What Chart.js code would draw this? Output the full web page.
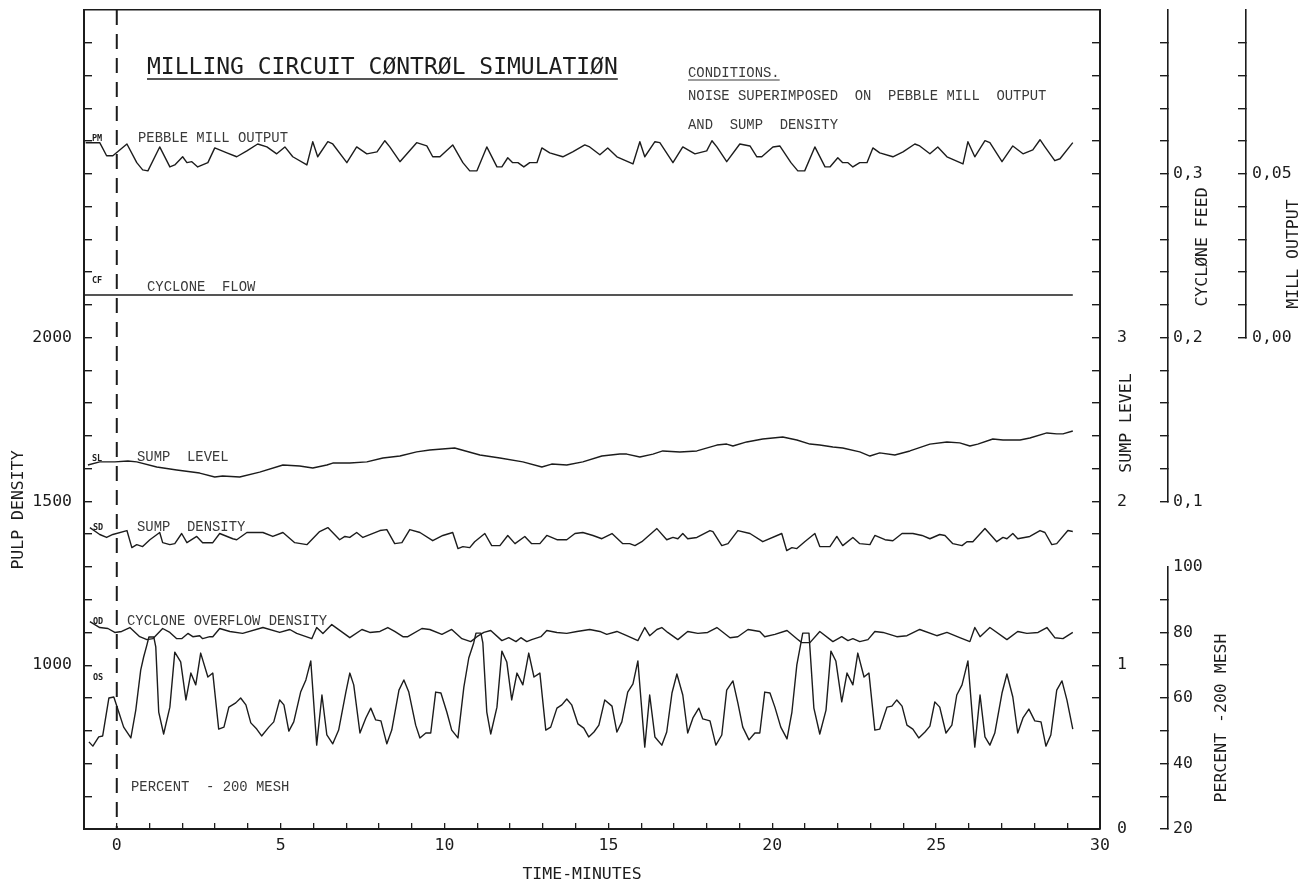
<!DOCTYPE html>
<html>
<head>
<meta charset="utf-8">
<title>Milling circuit control simulation</title>
<script src="https://cdn.jsdelivr.net/npm/chart.js@4.4.1/dist/chart.umd.min.js"></script>
<style>
  html, body { margin: 0; padding: 0; background: #fff; }
  #wrap { position: relative; width: 1304px; height: 884px; }
</style>
</head>
<body>
<div id="wrap"><canvas id="mill"></canvas></div>
<script>
(function () {
    "use strict";

    // ---- tick labels ----
    const timeLabels = [0, 5, 10, 15, 20, 25, 30];
    const pulpLabels = [1000, 1500, 2000];
    const sumpLabels = [0, 1, 2, 3];
    const feedLabels = [0.1, 0.2, 0.3];
    const millLabels = [0, 0.05];
    const meshLabels = [20, 40, 60, 80, 100];

    // controller switched on at t = 0
    const switchTime = 0;

    // ---- pebble mill output (mill output axis) ----
    const pmTime = [
        -0.95, -0.67, -0.52, -0.31, -0.12, 0.31, 0.61, 0.79, 0.95, 1.31,
        1.62, 1.77, 2.01, 2.14, 2.29, 2.47, 2.78, 2.99, 3.36, 3.66,
        3.97, 4.30, 4.58, 4.88, 5.13, 5.37, 5.80, 5.98, 6.13, 6.44,
        6.59, 7.02, 7.32, 7.63, 7.94, 8.18, 8.33, 8.64, 9.15, 9.46,
        9.64, 9.86, 10.25, 10.56, 10.77, 10.99, 11.29, 11.60, 11.75, 11.93,
        12.08, 12.24, 12.42, 12.60, 12.82, 12.97, 13.21, 13.61, 13.91, 14.28,
        14.43, 14.74, 14.98, 15.26, 15.75, 15.96, 16.11, 16.42, 16.57, 16.97,
        17.27, 17.64, 18.00, 18.16, 18.31, 18.61, 19.01, 19.32, 19.53, 19.68,
        20.02, 20.23, 20.57, 20.78, 20.99, 21.30, 21.61, 21.76, 22.00, 22.15,
        22.31, 22.46, 22.67, 22.89, 23.07, 23.28, 23.68, 23.99, 24.35, 24.50,
        24.81, 25.05, 25.33, 25.82, 25.97, 26.18, 26.49, 26.64, 27.01, 27.34,
        27.65, 27.95, 28.17, 28.32, 28.62, 28.78, 29.17
    ];
    const pmOutput = [
        0.0595, 0.0595, 0.0595, 0.0555, 0.0555, 0.0591, 0.0534, 0.0512, 0.0509, 0.0582,
        0.0521, 0.0527, 0.0552, 0.0534, 0.0537, 0.0521, 0.0534, 0.0579, 0.0564, 0.0552,
        0.0570, 0.0591, 0.0582, 0.0561, 0.0582, 0.0552, 0.0527, 0.0598, 0.0552, 0.0598,
        0.0591, 0.0534, 0.0582, 0.0561, 0.0567, 0.0601, 0.0582, 0.0537, 0.0595, 0.0585,
        0.0552, 0.0552, 0.0588, 0.0534, 0.0509, 0.0509, 0.0582, 0.0521, 0.0521, 0.0549,
        0.0534, 0.0534, 0.0521, 0.0534, 0.0534, 0.0579, 0.0564, 0.0552, 0.0567, 0.0588,
        0.0582, 0.0558, 0.0579, 0.0552, 0.0530, 0.0598, 0.0552, 0.0598, 0.0595, 0.0534,
        0.0582, 0.0561, 0.0570, 0.0601, 0.0582, 0.0537, 0.0591, 0.0585, 0.0552, 0.0552,
        0.0582, 0.0585, 0.0534, 0.0509, 0.0509, 0.0582, 0.0521, 0.0521, 0.0549, 0.0534,
        0.0534, 0.0521, 0.0534, 0.0534, 0.0579, 0.0564, 0.0552, 0.0567, 0.0591, 0.0585,
        0.0561, 0.0582, 0.0552, 0.0530, 0.0598, 0.0552, 0.0601, 0.0595, 0.0537, 0.0585,
        0.0561, 0.0573, 0.0604, 0.0582, 0.0540, 0.0546, 0.0595
    ];

    // ---- cyclone flow (cyclone feed axis) ----
    const cfTime = [-1, 29.17];
    const cfFeed = [0.226, 0.226];

    // ---- sump level ----
    const slTime = [
        -0.88, -0.52, -0.06, 0.34, 0.61, 1.22, 1.83, 2.53, 2.99, 3.23,
        3.75, 4.36, 5.07, 5.58, 5.98, 6.41, 6.59, 7.11, 7.63, 8.12,
        8.64, 9.15, 9.55, 10.31, 11.08, 11.69, 12.39, 12.97, 13.27, 13.73,
        14.22, 14.80, 15.35, 15.56, 15.96, 16.36, 16.66, 17.18, 17.70, 18.31,
        18.61, 18.80, 19.22, 19.71, 20.32, 20.75, 21.15, 21.45, 21.85, 22.15,
        22.67, 22.98, 23.28, 23.74, 24.20, 24.81, 25.33, 25.72, 26.03, 26.27,
        26.73, 27.04, 27.56, 27.86, 28.38, 28.68, 28.87, 29.17
    ];
    const slLevel = [
        2.222, 2.241, 2.241, 2.247, 2.241, 2.210, 2.192, 2.173, 2.149, 2.155,
        2.149, 2.179, 2.222, 2.216, 2.204, 2.222, 2.234, 2.234, 2.241, 2.265,
        2.277, 2.302, 2.314, 2.326, 2.283, 2.265, 2.241, 2.210, 2.228, 2.222,
        2.241, 2.277, 2.289, 2.289, 2.271, 2.289, 2.308, 2.302, 2.308, 2.344,
        2.350, 2.338, 2.363, 2.381, 2.393, 2.375, 2.350, 2.344, 2.332, 2.326,
        2.302, 2.277, 2.296, 2.283, 2.308, 2.350, 2.363, 2.357, 2.338, 2.350,
        2.381, 2.375, 2.375, 2.387, 2.418, 2.412, 2.412, 2.430
    ];

    // ---- sump density (pulp density axis) ----
    const sdTime = [
        -0.82, -0.52, -0.31, -0.12, 0.31, 0.46, 0.61, 0.79, 1.01, 1.31,
        1.40, 1.62, 1.77, 1.98, 2.14, 2.44, 2.62, 2.93, 3.14, 3.54,
        3.66, 3.97, 4.15, 4.46, 4.76, 5.07, 5.43, 5.80, 6.19, 6.44,
        6.80, 6.96, 7.11, 7.32, 7.51, 8.03, 8.24, 8.48, 8.70, 8.94,
        9.25, 9.64, 9.95, 10.25, 10.41, 10.56, 10.77, 10.92, 11.23, 11.44,
        11.69, 11.93, 12.15, 12.45, 12.66, 12.91, 13.12, 13.43, 13.73, 13.98,
        14.22, 14.53, 14.80, 15.11, 15.44, 15.65, 15.81, 16.02, 16.48, 16.78,
        16.97, 17.12, 17.27, 17.42, 17.70, 18.10, 18.19, 18.46, 18.65, 18.95,
        19.32, 19.71, 20.29, 20.44, 20.60, 20.75, 20.99, 21.30, 21.45, 21.76,
        21.97, 22.15, 22.46, 22.67, 22.98, 23.13, 23.44, 23.68, 23.96, 24.29,
        24.57, 24.81, 25.11, 25.27, 25.51, 25.79, 25.94, 26.12, 26.49, 26.85,
        27.04, 27.16, 27.34, 27.49, 27.86, 28.17, 28.32, 28.53, 28.68, 29.02,
        29.17
    ];
    const sdDensity = [
        1420, 1399, 1390, 1399, 1411, 1359, 1368, 1362, 1383, 1405,
        1374, 1368, 1371, 1402, 1374, 1393, 1374, 1374, 1402, 1386,
        1383, 1405, 1405, 1405, 1393, 1405, 1374, 1368, 1408, 1420,
        1383, 1393, 1390, 1405, 1390, 1411, 1414, 1371, 1374, 1414,
        1405, 1380, 1396, 1405, 1356, 1362, 1359, 1377, 1402, 1365,
        1365, 1396, 1371, 1393, 1371, 1371, 1396, 1383, 1383, 1402,
        1405, 1396, 1386, 1402, 1371, 1371, 1365, 1377, 1417, 1383,
        1390, 1386, 1402, 1386, 1390, 1411, 1408, 1365, 1371, 1411,
        1402, 1377, 1402, 1350, 1359, 1356, 1377, 1402, 1362, 1362,
        1393, 1365, 1390, 1371, 1368, 1396, 1383, 1380, 1402, 1402,
        1396, 1386, 1399, 1396, 1371, 1365, 1377, 1377, 1417, 1377,
        1390, 1386, 1402, 1386, 1393, 1411, 1405, 1368, 1371, 1411,
        1408
    ];

    // ---- cyclone overflow density (pulp density axis) ----
    const odTime = [
        -0.82, -0.52, -0.27, -0.06, 0.15, 0.40, 0.70, 0.92, 1.10, 1.40,
        1.62, 1.83, 1.98, 2.17, 2.32, 2.53, 2.62, 2.84, 2.93, 3.14,
        3.45, 3.84, 4.46, 4.97, 5.28, 5.49, 5.95, 6.10, 6.29, 6.56,
        7.11, 7.48, 7.72, 8.03, 8.27, 8.48, 8.73, 8.88, 9.31, 9.55,
        9.92, 10.22, 10.53, 10.80, 10.99, 11.20, 11.41, 11.75, 11.96, 12.18,
        12.33, 12.51, 12.66, 12.94, 13.12, 13.43, 13.73, 14.04, 14.43, 14.74,
        14.95, 15.26, 15.56, 15.90, 16.11, 16.26, 16.48, 16.63, 16.81, 17.12,
        17.42, 17.73, 18.03, 18.31, 18.71, 18.95, 19.26, 19.62, 19.77, 20.08,
        20.45, 20.75, 20.90, 21.15, 21.45, 21.85, 22.12, 22.31, 22.46, 22.67,
        22.92, 23.13, 23.38, 23.80, 24.11, 24.50, 25.02, 25.33, 25.72, 26.03,
        26.18, 26.34, 26.64, 27.16, 27.49, 27.77, 28.11, 28.38, 28.62, 28.87,
        29.17
    ];
    const odDensity = [
        1133, 1115, 1112, 1100, 1103, 1115, 1087, 1078, 1081, 1112,
        1100, 1081, 1081, 1097, 1087, 1090, 1081, 1087, 1087, 1112,
        1103, 1097, 1115, 1100, 1109, 1097, 1081, 1115, 1097, 1124,
        1084, 1109, 1100, 1103, 1115, 1103, 1087, 1087, 1112, 1109,
        1094, 1109, 1081, 1072, 1087, 1100, 1106, 1075, 1084, 1072,
        1084, 1072, 1078, 1087, 1106, 1100, 1097, 1103, 1109, 1103,
        1094, 1103, 1090, 1075, 1115, 1090, 1109, 1115, 1100, 1078,
        1103, 1097, 1100, 1115, 1084, 1087, 1109, 1103, 1087, 1094,
        1106, 1081, 1069, 1069, 1103, 1072, 1087, 1075, 1081, 1072,
        1078, 1103, 1100, 1087, 1090, 1109, 1090, 1100, 1084, 1072,
        1115, 1087, 1115, 1078, 1103, 1097, 1100, 1115, 1084, 1081,
        1100
    ];

    // ---- percent -200 mesh in cyclone overflow ----
    const osTime = [
        -0.85, -0.73, -0.55, -0.43, -0.24, -0.09, 0.06, 0.21, 0.43, 0.58,
        0.73, 0.82, 0.92, 0.98, 1.13, 1.19, 1.28, 1.43, 1.62, 1.77,
        1.95, 2.11, 2.26, 2.41, 2.56, 2.78, 2.93, 3.11, 3.27, 3.42,
        3.63, 3.78, 3.94, 4.09, 4.27, 4.42, 4.64, 4.79, 4.97, 5.10,
        5.25, 5.40, 5.61, 5.77, 5.92, 6.10, 6.26, 6.41, 6.59, 6.77,
        6.99, 7.11, 7.23, 7.42, 7.60, 7.75, 7.90, 8.06, 8.24, 8.39,
        8.61, 8.76, 8.91, 9.12, 9.25, 9.43, 9.58, 9.73, 9.89, 10.07,
        10.22, 10.41, 10.59, 10.74, 10.89, 10.96, 11.11, 11.17, 11.29, 11.41,
        11.60, 11.75, 11.90, 12.05, 12.21, 12.39, 12.57, 12.73, 12.91, 13.09,
        13.24, 13.43, 13.58, 13.73, 13.88, 14.07, 14.25, 14.40, 14.56, 14.71,
        14.89, 15.11, 15.26, 15.41, 15.59, 15.75, 15.90, 16.11, 16.26, 16.42,
        16.63, 16.78, 16.94, 17.09, 17.27, 17.42, 17.58, 17.76, 17.88, 18.10,
        18.28, 18.46, 18.61, 18.80, 18.95, 19.10, 19.29, 19.47, 19.62, 19.77,
        19.93, 20.08, 20.26, 20.45, 20.60, 20.75, 20.93, 21.12, 21.27, 21.45,
        21.64, 21.79, 21.94, 22.12, 22.28, 22.46, 22.61, 22.80, 22.95, 23.13,
        23.28, 23.50, 23.65, 23.80, 23.96, 24.11, 24.29, 24.47, 24.66, 24.81,
        24.96, 25.11, 25.30, 25.48, 25.63, 25.79, 25.97, 26.18, 26.34, 26.49,
        26.64, 26.79, 27.01, 27.16, 27.34, 27.49, 27.65, 27.83, 28.01, 28.20,
        28.35, 28.50, 28.68, 28.84, 28.99, 29.17
    ];
    const osMesh = [
        46.6, 45.3, 48.1, 48.4, 60.0, 60.3, 55.7, 51.1, 47.8, 56.3,
        68.5, 72.5, 76.2, 78.6, 78.6, 75.6, 55.7, 49.0, 57.2, 74.0,
        71.0, 59.4, 67.6, 64.0, 73.7, 66.4, 67.6, 50.5, 51.1, 57.2,
        58.5, 60.0, 57.9, 52.4, 50.5, 48.4, 51.1, 52.7, 59.4, 57.9,
        49.9, 52.7, 61.8, 65.5, 71.3, 45.6, 60.9, 48.7, 46.0, 50.2,
        61.8, 67.6, 64.0, 49.3, 53.9, 56.9, 53.3, 53.0, 46.0, 50.2,
        62.4, 65.5, 61.8, 51.7, 47.8, 49.3, 49.3, 61.8, 61.5, 55.7,
        50.2, 47.8, 63.3, 72.2, 76.8, 79.8, 79.8, 76.8, 55.7, 49.0,
        57.2, 74.3, 71.0, 59.4, 67.6, 64.0, 73.7, 66.4, 67.6, 50.2,
        51.1, 56.9, 57.9, 59.7, 57.9, 52.1, 50.8, 48.1, 49.6, 51.7,
        59.4, 57.5, 49.6, 52.7, 61.8, 64.3, 71.3, 45.0, 60.9, 48.1,
        45.6, 49.6, 61.5, 67.3, 60.9, 49.3, 53.9, 56.9, 53.6, 53.0,
        45.6, 48.7, 62.4, 65.2, 58.5, 51.1, 47.2, 49.3, 49.3, 61.8,
        61.5, 57.2, 51.1, 47.5, 55.7, 70.1, 79.8, 79.8, 56.9, 49.0,
        56.3, 74.3, 71.3, 58.8, 67.6, 64.0, 73.7, 66.4, 67.6, 50.2,
        50.5, 57.2, 57.5, 59.4, 57.5, 51.7, 50.5, 47.8, 49.6, 51.4,
        58.8, 57.2, 49.3, 51.7, 60.9, 64.0, 71.3, 45.0, 60.9, 48.1,
        45.6, 49.3, 61.5, 67.3, 60.3, 49.3, 53.9, 56.6, 53.0, 52.7,
        45.3, 48.7, 62.4, 65.2, 59.4, 50.5
    ];

    const INK = "#1c1c1c";
    const PLOT_FONT = "'DejaVu Sans Mono', monospace";
    const TYPE_FONT = "'Liberation Mono', monospace";

    const pts = (xs, ys) => xs.map((x, i) => ({ x: x, y: ys[i] }));
    const near = (list, v) => list.some((t) => Math.abs(t - v) < 1e-6);
    const comma = (v, digits) => v.toFixed(digits).replace(".", ",");

    // fixed box sizes so the plot area lands where the axes are drawn
    const boxWidth = (w) => (scale) => {
        scale.width = w;
        scale.paddingTop = scale.paddingBottom = scale.paddingLeft = scale.paddingRight = 0;
    };
    const boxHeight = (h) => (scale) => {
        scale.height = h;
        scale.paddingTop = scale.paddingBottom = scale.paddingLeft = scale.paddingRight = 0;
    };
    // tick marks, skipping the ones at the open ends of an axis
    const tickInk = (skip) => (ctx) =>
        ctx.tick && near(skip, ctx.tick.value) ? "rgba(0,0,0,0)" : INK;

    const tickFont = { family: PLOT_FONT, size: 16.5 };

    const line = (data, axis) => ({
        data: data,
        yAxisID: axis,
        borderColor: INK,
        borderWidth: 1.4,
        pointRadius: 0,
        tension: 0,
        borderJoinStyle: "round",
    });

    // free text drawn onto the plot
    const annotations = {
        id: "annotations",
        afterDraw(chart) {
            const ctx = chart.ctx;
            ctx.save();
            ctx.fillStyle = INK;
            ctx.strokeStyle = INK;
            ctx.textBaseline = "middle";
            ctx.textAlign = "left";

            // heading
            ctx.font = "23px " + PLOT_FONT;
            const heading = "MILLING CIRCUIT CØNTRØL SIMULATIØN";
            ctx.fillText(heading, 147, 68);
            ctx.lineWidth = 1.4;
            ctx.beginPath();
            ctx.moveTo(147, 79);
            ctx.lineTo(147 + ctx.measureText(heading).width, 79);
            ctx.stroke();

            // typed notes
            ctx.fillStyle = "#3a3a3a";
            ctx.strokeStyle = "#3a3a3a";
            ctx.font = "13.9px " + TYPE_FONT;
            ctx.fillText("CONDITIONS.", 688, 73);
            ctx.lineWidth = 1;
            ctx.beginPath();
            ctx.moveTo(688, 80);
            ctx.lineTo(688 + ctx.measureText("CONDITIONS.").width, 80);
            ctx.stroke();
            ctx.fillText("NOISE SUPERIMPOSED  ON  PEBBLE MILL  OUTPUT", 688, 96);
            ctx.fillText("AND  SUMP  DENSITY", 688, 125);

            const names = [
                ["PEBBLE MILL OUTPUT", 138, 138],
                ["CYCLONE  FLOW", 147, 287],
                ["SUMP  LEVEL", 137, 457],
                ["SUMP  DENSITY", 137, 527],
                ["CYCLONE OVERFLOW DENSITY", 127, 621],
                ["PERCENT  - 200 MESH", 131, 787],
            ];
            names.forEach(([t, x, y]) => ctx.fillText(t, x, y));

            ctx.fillStyle = INK;
            ctx.font = "bold 8.5px " + PLOT_FONT;
            const tags = [
                ["PM", 92, 139], ["CF", 92, 281], ["SL", 92, 459],
                ["SD", 93, 528], ["OD", 93, 622], ["OS", 93, 678],
            ];
            tags.forEach(([t, x, y]) => ctx.fillText(t, x, y));

            // axis titles
            ctx.font = "16.5px " + PLOT_FONT;
            ctx.textAlign = "center";
            ctx.fillText("TIME-MINUTES", 582, 875);
            const upright = (text, x, y) => {
                ctx.save();
                ctx.translate(x, y);
                ctx.rotate(-Math.PI / 2);
                ctx.fillText(text, 0, 0);
                ctx.restore();
            };
            upright("PULP DENSITY", 19, 510);
            upright("SUMP LEVEL", 1127, 423);
            upright("CYCLØNE FEED", 1203, 247);
            upright("MILL OUTPUT", 1294, 254);
            upright("PERCENT -200 MESH", 1222, 718);
            ctx.restore();
        },
    };

    const ctx = document.getElementById("mill").getContext("2d");
    new Chart(ctx, {
        type: "line",
        data: {
            datasets: [
                line(pts(pmTime, pmOutput), "yMill"),
                line(pts(cfTime, cfFeed), "yFeed"),
                line(pts(slTime, slLevel), "ySump"),
                line(pts(sdTime, sdDensity), "yPulp"),
                line(pts(odTime, odDensity), "yPulp"),
                line(pts(osTime, osMesh), "yMesh"),
                Object.assign(
                    line([{ x: switchTime, y: 3000 }, { x: switchTime, y: 500 }], "yPulp"),
                    { borderWidth: 2, borderDash: [15, 9] }
                ),
            ],
        },
        options: {
            responsive: true,
            maintainAspectRatio: false,
            animation: false,
            devicePixelRatio: 1,
            events: [],
            layout: { padding: { top: 10, left: 0, right: 0, bottom: 0 } },
            plugins: {
                legend: { display: false },
                tooltip: { enabled: false },
            },
            scales: {
                x: {
                    type: "linear",
                    position: "bottom",
                    min: -1,
                    max: 30,
                    afterFit: boxHeight(55),
                    border: { color: INK, width: 2 },
                    grid: { drawOnChartArea: false, tickLength: -6, lineWidth: 1.3, color: tickInk([-1, 30]) },
                    ticks: {
                        stepSize: 1,
                        maxTicksLimit: 100,
                        autoSkip: false,
                        maxRotation: 0,
                        padding: 13,
                        color: INK,
                        font: tickFont,
                        callback: (v) => (near(timeLabels, v) ? String(Math.round(v)) : ""),
                    },
                },
                xTop: {
                    type: "linear",
                    position: "top",
                    min: -1,
                    max: 30,
                    afterFit: boxHeight(0),
                    border: { color: INK, width: 1.5 },
                    grid: { drawOnChartArea: false, drawTicks: false },
                    ticks: { display: false },
                },
                yPulp: {
                    type: "linear",
                    position: "left",
                    min: 500,
                    max: 3000,
                    afterFit: boxWidth(84),
                    border: { color: INK, width: 2 },
                    grid: { drawOnChartArea: false, tickLength: -8, lineWidth: 1.4, color: tickInk([500, 3000]) },
                    ticks: {
                        stepSize: 100,
                        maxTicksLimit: 100,
                        autoSkip: false,
                        padding: 20,
                        color: INK,
                        font: tickFont,
                        callback: (v) => (near(pulpLabels, v) ? String(Math.round(v)) : ""),
                    },
                },
                ySump: {
                    type: "linear",
                    position: "right",
                    min: 0,
                    max: 5,
                    afterFit: boxWidth(68),
                    border: { color: INK, width: 2 },
                    grid: { drawOnChartArea: false, tickLength: -8, lineWidth: 1.4, color: tickInk([0, 5]) },
                    ticks: {
                        stepSize: 0.2,
                        maxTicksLimit: 100,
                        autoSkip: false,
                        padding: 25,
                        color: INK,
                        font: tickFont,
                        callback: (v) => (near(sumpLabels, v) ? String(Math.round(v)) : ""),
                    },
                },
                yFeed: {
                    type: "linear",
                    position: "right",
                    stack: "feedMesh",
                    stackWeight: 15,
                    min: 0.1,
                    max: 0.4,
                    afterFit: boxWidth(78),
                    border: { color: INK, width: 1.6 },
                    grid: { drawOnChartArea: false, tickLength: -8, lineWidth: 1.4, color: tickInk([0.4]) },
                    ticks: {
                        stepSize: 0.02,
                        maxTicksLimit: 100,
                        autoSkip: false,
                        padding: 13,
                        color: INK,
                        font: tickFont,
                        callback: (v) => (near(feedLabels, v) ? comma(v, 1) : ""),
                    },
                },
                feedGap: {
                    type: "linear",
                    position: "right",
                    stack: "feedMesh",
                    stackWeight: 2,
                    display: false,
                },
                yMesh: {
                    type: "linear",
                    position: "right",
                    stack: "feedMesh",
                    stackWeight: 8,
                    min: 20,
                    max: 100,
                    afterFit: boxWidth(78),
                    border: { color: INK, width: 1.6 },
                    grid: { drawOnChartArea: false, tickLength: -8, lineWidth: 1.4, color: tickInk([100]) },
                    ticks: {
                        stepSize: 10,
                        maxTicksLimit: 100,
                        autoSkip: false,
                        padding: 13,
                        color: INK,
                        font: tickFont,
                        callback: (v) => (near(meshLabels, v) ? String(Math.round(v)) : ""),
                    },
                },
                yMill: {
                    type: "linear",
                    position: "right",
                    stack: "mill",
                    stackWeight: 10,
                    min: 0,
                    max: 0.1,
                    afterFit: boxWidth(58),
                    border: { color: INK, width: 1.6 },
                    grid: { drawOnChartArea: false, tickLength: -8, lineWidth: 1.4, color: tickInk([0.1]) },
                    ticks: {
                        stepSize: 0.01,
                        maxTicksLimit: 100,
                        autoSkip: false,
                        padding: 14,
                        color: INK,
                        font: tickFont,
                        callback: (v) => (near(millLabels, v) ? comma(v, 2) : ""),
                    },
                },
                millGap: {
                    type: "linear",
                    position: "right",
                    stack: "mill",
                    stackWeight: 15,
                    display: false,
                },
            },
        },
        plugins: [annotations],
    });
})();
</script>
</body>
</html>
